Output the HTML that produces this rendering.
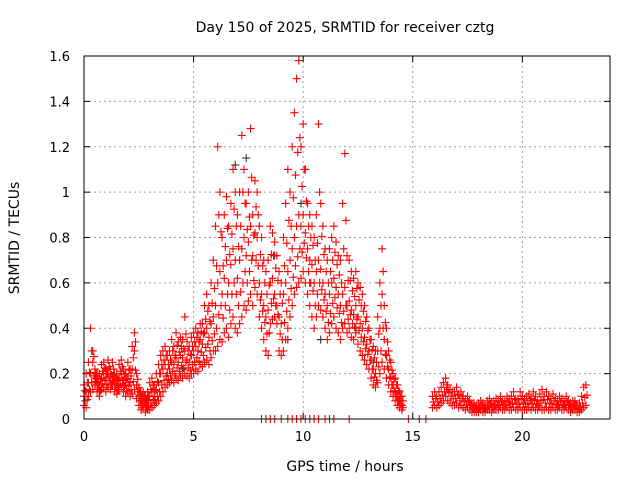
<!DOCTYPE html>
<html><head><meta charset="utf-8"><style>
body{margin:0;background:#fff}
svg{display:block;font-family:"DejaVu Sans","Liberation Sans",sans-serif}
</style></head><body>
<svg id="chart" width="640" height="480" viewBox="0 0 640 480">
<text x="345" y="32" font-size="14" text-anchor="middle">Day 150 of 2025, SRMTID for receiver cztg</text>
<text x="345" y="471" font-size="14" text-anchor="middle">GPS time / hours</text>
<text transform="translate(19,238) rotate(-90)" font-size="14" text-anchor="middle">SRMTID / TECUs</text>
<g id="grid"></g>
<g id="ticks"></g>
<g id="marks"></g>
<rect x="84" y="56" width="526" height="363" fill="none" stroke="#000" stroke-width="1"/>
</svg>
<script>
const xTicks=[0,5,10,15,20];
const yTicks=[0,0.2,0.4,0.6,0.8,1,1.2,1.4,1.6];
const yTickLabels=["0","0.2","0.4","0.6","0.8","1","1.2","1.4","1.6"];
const day1Start=0, day1Step=0.1;
const lo=[0.06,0.05,0.1,0.12,0.13,0.15,0.12,0.1,0.13,0.14,
0.12,0.14,0.13,0.15,0.12,0.11,0.13,0.14,0.12,0.1,
0.12,0.1,0.11,0.13,0.09,0.06,0.04,0.05,0.03,0.04,
0.04,0.05,0.06,0.07,0.08,0.1,0.12,0.14,0.15,0.16,
0.17,0.16,0.18,0.17,0.19,0.18,0.2,0.19,0.18,0.2,
0.2,0.22,0.21,0.24,0.23,0.25,0.26,0.24,0.27,0.3,
0.3,0.32,0.35,0.34,0.38,0.4,0.36,0.42,0.45,0.4,
0.38,0.42,0.45,0.5,0.48,0.52,0.55,0.5,0.58,0.55,
0.45,0.4,0.35,0.3,0.28,0.42,0.44,0.45,0.42,0.3,
0.28,0.3,0.35,0.4,0.45,0.5,0.55,0.58,0.6,0.62,
0.65,0.6,0.55,0.5,0.45,0.4,0.45,0.5,0.48,0.45,
0.4,0.35,0.38,0.42,0.45,0.4,0.38,0.35,0.4,0.42,
0.38,0.4,0.36,0.35,0.38,0.33,0.3,0.28,0.26,0.24,
0.22,0.18,0.15,0.14,0.16,0.2,0.25,0.22,0.18,0.15,
0.12,0.1,0.08,0.06,0.05,0.04];
const mid=[0.1,0.12,0.16,0.2,0.25,0.18,0.16,0.15,0.18,0.2,
0.18,0.2,0.17,0.19,0.16,0.15,0.18,0.2,0.17,0.15,
0.18,0.16,0.22,0.3,0.15,0.1,0.08,0.09,0.07,0.08,
0.1,0.12,0.1,0.13,0.16,0.2,0.22,0.24,0.2,0.22,
0.25,0.24,0.27,0.25,0.28,0.27,0.3,0.26,0.25,0.28,
0.3,0.32,0.3,0.35,0.33,0.38,0.4,0.36,0.42,0.45,
0.5,0.6,0.65,0.55,0.62,0.7,0.6,0.68,0.75,0.7,
0.62,0.7,0.75,0.8,0.72,0.78,0.85,0.72,0.82,0.8,
0.6,0.55,0.5,0.45,0.48,0.6,0.62,0.55,0.5,0.45,
0.42,0.55,0.6,0.65,0.7,0.75,0.8,0.85,0.9,0.85,
0.9,0.82,0.75,0.7,0.68,0.6,0.65,0.7,0.66,0.6,
0.55,0.5,0.55,0.6,0.62,0.58,0.55,0.5,0.55,0.58,
0.5,0.52,0.48,0.46,0.5,0.45,0.42,0.4,0.36,0.33,
0.3,0.26,0.22,0.2,0.3,0.4,0.55,0.35,0.28,0.22,
0.18,0.15,0.12,0.1,0.08,0.06];
const hi=[0.15,0.2,0.25,0.4,0.3,0.22,0.2,0.2,0.24,0.25,
0.22,0.26,0.22,0.25,0.2,0.2,0.24,0.26,0.22,0.2,
0.25,0.22,0.32,0.38,0.2,0.14,0.12,0.12,0.1,0.12,
0.16,0.18,0.15,0.2,0.24,0.28,0.3,0.32,0.28,0.3,
0.35,0.32,0.38,0.34,0.36,0.35,0.45,0.34,0.32,0.36,
0.38,0.4,0.38,0.42,0.42,0.5,0.55,0.5,0.6,0.7,
0.85,1.2,1.0,0.8,0.9,0.98,0.85,0.95,1.1,1.0,
0.9,1.0,1.25,1.1,0.95,1.0,1.28,0.9,1.05,1.0,
0.85,0.8,0.7,0.65,0.7,0.85,0.82,0.78,0.72,0.65,
0.6,0.8,0.95,1.1,1.0,1.2,1.35,1.5,1.58,1.2,
1.3,1.1,0.95,0.9,0.85,0.8,0.9,1.3,0.95,0.85,
0.75,0.7,0.75,0.8,0.85,0.78,0.72,0.7,0.95,1.17,
0.72,0.7,0.65,0.62,0.65,0.6,0.58,0.55,0.5,0.45,
0.4,0.35,0.32,0.3,0.45,0.6,0.75,0.5,0.4,0.3,
0.25,0.2,0.18,0.15,0.12,0.1];
const day2Start=15.9, day2Step=0.1;
const lo2=[0.05,0.06,0.05,0.06,0.07,0.08,0.1,0.08,0.07,0.06,
0.06,0.07,0.05,0.06,0.05,0.04,0.05,0.04,0.03,0.03,
0.03,0.03,0.04,0.03,0.03,0.04,0.04,0.03,0.04,0.04,
0.04,0.05,0.04,0.04,0.05,0.04,0.04,0.05,0.04,0.04,
0.05,0.04,0.04,0.04,0.05,0.04,0.05,0.04,0.04,0.05,
0.04,0.04,0.05,0.04,0.04,0.05,0.04,0.04,0.05,0.04,
0.04,0.05,0.04,0.03,0.04,0.04,0.03,0.03,0.04,0.05,0.06];
const hi2=[0.1,0.12,0.1,0.12,0.14,0.16,0.18,0.15,0.13,0.12,
0.12,0.14,0.11,0.12,0.1,0.09,0.1,0.08,0.07,0.07,
0.06,0.07,0.08,0.07,0.06,0.08,0.09,0.07,0.08,0.09,
0.08,0.1,0.08,0.08,0.1,0.09,0.1,0.12,0.09,0.09,
0.12,0.1,0.09,0.1,0.11,0.09,0.12,0.1,0.08,0.11,
0.13,0.1,0.12,0.1,0.09,0.11,0.09,0.08,0.1,0.09,
0.08,0.1,0.08,0.07,0.08,0.08,0.06,0.07,0.1,0.14,0.15];
const zeroTimes=[8.1,8.3,8.5,8.7,9.0,9.3,9.5,9.7,9.9,10.1,10.3,10.5,10.7,11.0,11.2,11.4,12.1,14.8,15.3,15.6];
const blackT=[0.7,4.5,6.9,7.4,8.7,9.3,9.9,10.3,10.8,11.5,12.4,13.2,16.6];
const blackV=[0.12,0.22,1.12,1.15,0.72,0.35,0.95,0.6,0.35,0.58,0.4,0.25,0.13];

const X0=84,X1=610,Y0=419,Y1=56,XMAX=24,YMAX=1.6;
const xs=v=>X0+(X1-X0)*v/XMAX;
const ys=v=>Y0-(Y0-Y1)*v/YMAX;
const NS="http://www.w3.org/2000/svg";
const grid=document.getElementById('grid'),ticks=document.getElementById('ticks'),marks=document.getElementById('marks');
function mk(tag,attrs,parent){const e=document.createElementNS(NS,tag);for(const k in attrs)e.setAttribute(k,attrs[k]);parent.appendChild(e);return e;}
xTicks.forEach(t=>{
 const x=xs(t);
 if(t>0){const g=mk('line',{x1:x,x2:x,y1:Y1,y2:Y0,stroke:'#a0a0a0','stroke-dasharray':'2,3'},grid);
 
 }
 const l=mk('text',{x:x,y:Y0+22,'font-size':13,'text-anchor':'middle'},ticks);l.textContent=t;
 
 
 mk('line',{x1:x,x2:x,y1:Y0,y2:Y0-6,stroke:'#000'},ticks);
 mk('line',{x1:x,x2:x,y1:Y1,y2:Y1+6,stroke:'#000'},ticks);
});
yTicks.forEach((t,i)=>{
 const y=ys(t);
 if(t>0&&t<YMAX){const g=mk('line',{x1:X0,x2:X1,y1:y,y2:y,stroke:'#a0a0a0','stroke-dasharray':'2,3'},grid);
 
 }
 const l=mk('text',{x:X0-14,y:y+5,'font-size':13,'text-anchor':'end'},ticks);l.textContent=yTickLabels[i];
 
 
 mk('line',{x1:X0,x2:X0+6,y1:y,y2:y,stroke:'#000'},ticks);
 mk('line',{x1:X1,x2:X1-6,y1:y,y2:y,stroke:'#000'},ticks);
});
function plus(t,v,color){
 const x=xs(t),y=ys(v);
 const p=mk('path',{d:`M${x-4},${y}h8M${x},${y-4}v8`,stroke:color,'stroke-width':1.1,fill:'none'},marks);
 
 
}
blackT.forEach((t,i)=>plus(t,blackV[i],'#333'));
[lo,mid,hi].forEach(arr=>arr.forEach((v,i)=>{plus(day1Start+i*day1Step,v,'#f00');}));
lo.forEach((v,i)=>{plus(day1Start+i*day1Step+0.05,(v+mid[i])/2,'#f00');plus(day1Start+i*day1Step+0.05,(mid[i]+hi[i])/2,'#f00');});
[lo2,hi2].forEach(arr=>arr.forEach((v,i)=>plus(day2Start+i*day2Step,v,'#f00')));
lo2.forEach((v,i)=>plus(day2Start+i*day2Step+0.05,(v+hi2[i])/2,'#f00'));
zeroTimes.forEach(t=>plus(t,0,'#f00'));
</script>
</body></html>
